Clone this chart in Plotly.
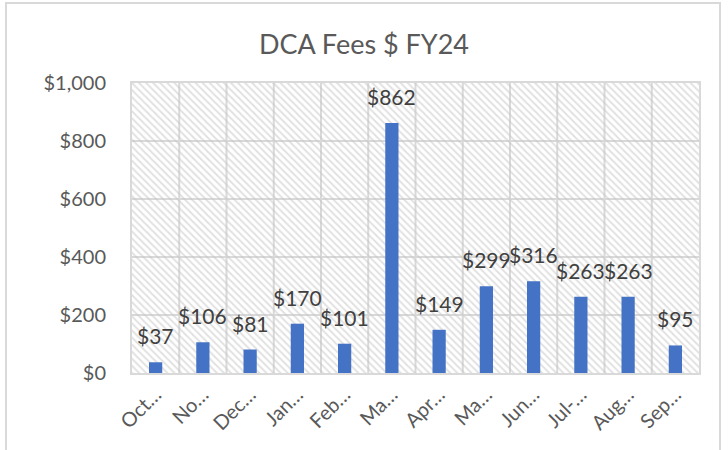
import plotly.graph_objects as go

months = ["Oct…", "No…", "Dec…", "Jan…", "Feb…", "Ma…", "Apr…", "Ma…", "Jun…", "Jul-…", "Aug…", "Sep…"]
fees = [37, 106, 81, 170, 101, 862, 149, 299, 316, 263, 263, 95]
y_ticks = [0, 200, 400, 600, 800, 1000]
y_labels = ["$0", "$200", "$400", "$600", "$800", "$1,000"]

xpos = list(range(len(months)))
font = "Lato, 'Open Sans', sans-serif"
grey = "#595959"

fig = go.Figure()
# hatched plot-area background
fig.add_trace(go.Bar(
    x=xpos, y=[1000] * len(xpos), width=1,
    marker=dict(color="rgba(0,0,0,0)", line=dict(width=0),
                pattern=dict(shape="\\", fgcolor="#c4c4c4", bgcolor="rgba(0,0,0,0)", size=5, solidity=0.4)),
    hoverinfo="skip", showlegend=False,
))
fig.add_trace(go.Bar(
    x=xpos, y=fees, width=0.28,
    marker=dict(color="#4472C4", line=dict(width=0)),
    showlegend=False,
))
# data labels
for xi, v in zip(xpos, fees):
    fig.add_annotation(x=xi, y=v, xref="x", yref="y", text=f"${v}", showarrow=False,
                       yanchor="bottom", yshift=12,
                       font=dict(size=21, color="#404040", family=font))

fig.update_layout(
    width=728, height=450,
    margin=dict(l=132, r=29, t=83, b=77),
    paper_bgcolor="white", plot_bgcolor="white",
    barmode="overlay",
    title=dict(text="DCA Fees $ FY24", x=0.5, xref="container", xanchor="center",
               y=0.9, yref="container", yanchor="middle",
               font=dict(size=27, color=grey, family=font)),
    font=dict(family=font, color=grey),
)
fig.update_xaxes(
    range=[-0.5, 11.5], tickmode="array", tickvals=xpos, ticktext=months,
    tickangle=-45, tickfont=dict(size=20, color=grey),
    showgrid=False, zeroline=False,
    showline=True, linecolor="#d9d9d9", linewidth=2, mirror=True,
    ticks="",
)
fig.update_yaxes(
    range=[0, 1000], tickmode="array", tickvals=y_ticks, ticktext=y_labels,
    tickfont=dict(size=20, color=grey), ticklabelstandoff=20,
    showgrid=True, gridcolor="#d9d9d9", gridwidth=2, zeroline=False,
    showline=True, linecolor="#d9d9d9", linewidth=2, mirror=True,
)
# vertical gridlines at category boundaries
for b in range(1, len(months)):
    fig.add_shape(type="line", xref="x", yref="y", x0=b - 0.5, x1=b - 0.5, y0=0, y1=1000,
                  line=dict(color="#d9d9d9", width=2), layer="below")
# chart outer border
fig.add_shape(type="rect", xref="paper", yref="paper",
              x0=(6 - 132) / 567, x1=(720 - 132) / 567,
              y0=(373 - 470) / 290, y1=(373 - 3) / 290,
              line=dict(color="#d9d9d9", width=2), layer="below")

fig.write_html("out.html", config={"displayModeBar": False},
               post_script="document.body.style.margin='0';")
